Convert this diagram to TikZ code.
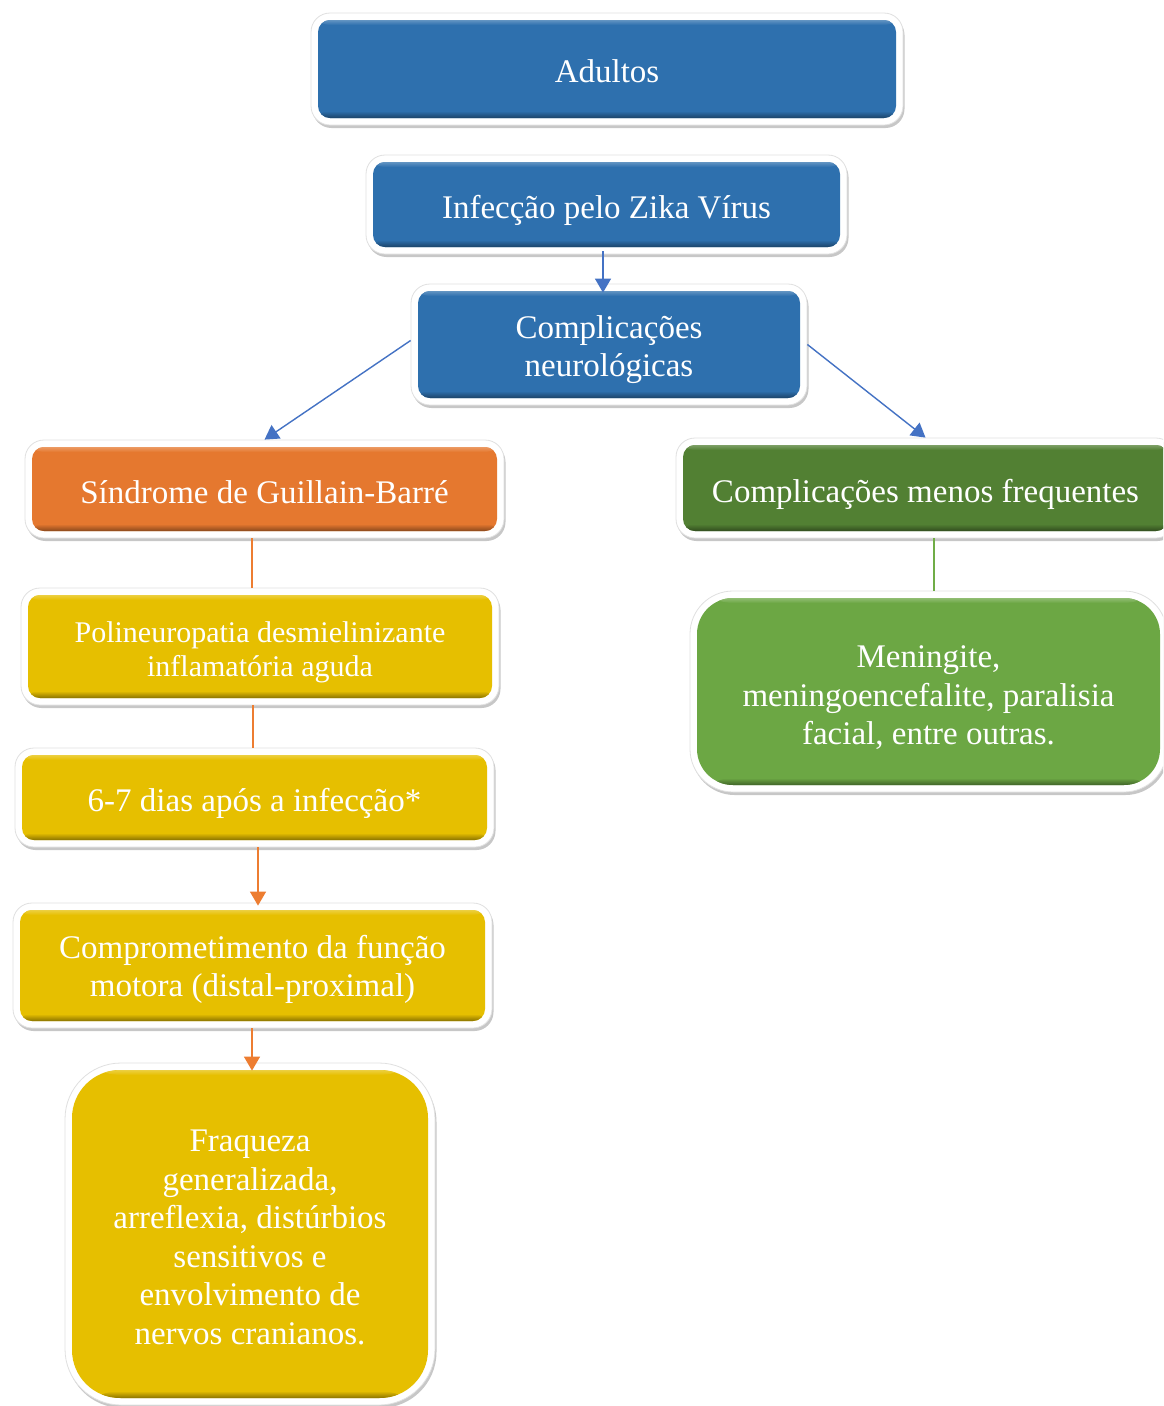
\documentclass[tikz,border=0pt]{standalone}
\usepackage{fontspec}
\setmainfont{Liberation Serif}
\usetikzlibrary{arrows.meta,shadows}

\definecolor{boxblue}{HTML}{2E70AE}
\definecolor{boxorange}{HTML}{E5782F}
\definecolor{boxdarkgreen}{HTML}{528033}
\definecolor{boxgreen}{HTML}{6CA744}
\definecolor{boxyellow}{HTML}{E6BF00}
\definecolor{lineblue}{HTML}{4472C4}
\definecolor{lineorange}{HTML}{ED7D31}
\definecolor{linegreen}{HTML}{70AD47}

% fixed line height and depth, so every line of a card sits the same way
\newcommand\cardtop{\rule{0pt}{0.95em}}
\newcommand\cardbottom{\rule[-0.24em]{0pt}{0.24em}}

\begin{document}
\begin{tikzpicture}[x=1pt,y=-1pt,
  % white framed card with a coloured, slightly bevelled face
  card/.style n args={5}{rectangle, rounded corners=#5, fill=white,
    draw=black!12, line width=0.8pt,
    drop shadow={shadow xshift=1.5pt,shadow yshift=-3pt,opacity=.22,fill=black},
    minimum width=#2, minimum height=#3, inner sep=0pt,
    path picture={
      \begin{scope}
        \clip[rounded corners=#4]
          ([shift={(7pt,7pt)}]path picture bounding box.south west) rectangle
          ([shift={(-7pt,-7pt)}]path picture bounding box.north east);
        \fill[#1] (path picture bounding box.south west) rectangle
          (path picture bounding box.north east);
        \shade[top color=#1, bottom color=#1!60!black]
          ([yshift=7pt]path picture bounding box.south west) rectangle
          ([yshift=14pt]path picture bounding box.south east);
        \shade[top color=#1!75!white, bottom color=#1]
          ([yshift=-7pt]path picture bounding box.north west) rectangle
          ([yshift=-12pt]path picture bounding box.north east);
      \end{scope}
    }},
  % the white lettering on a card
  cardtext/.style={text=white, align=center, inner sep=0pt,
    font=\fontsize{33}{38.5}\selectfont,
    execute at begin node=\cardtop, execute at end node=\cardbottom},
  smallfont/.style={font=\fontsize{30}{34}\selectfont},
  link/.style={line width=1.4pt},
  tip/.style={-{Triangle[width=16pt,length=14pt]}},
]
\clip (0,0) rectangle (1163,1406);
\fill[white] (0,0) rectangle (1163,1406);

% main column
\node[card={boxblue}{592}{112}{12pt}{19pt}] (adultos) at (607,69) {};
\node[card={boxblue}{481}{99}{12pt}{19pt}] (infec) at (606.5,204.5) {};
\node[card={boxblue}{396}{121}{12pt}{19pt}] (compl) at (609,344.5) {};

% Guillain-Barré branch
\node[card={boxorange}{479}{98}{12pt}{19pt}] (sind) at (264.5,489) {};
\node[card={boxyellow}{478}{117}{12pt}{19pt}] (poli) at (260,646.5) {};
\node[card={boxyellow}{479}{99}{12pt}{19pt}] (dias) at (254.5,797.5) {};
\node[card={boxyellow}{479}{125}{12pt}{19pt}] (compr) at (252.5,965.5) {};
\node[card={boxyellow}{370}{342}{48pt}{56pt}] (fraq) at (250,1234) {};

% less frequent complications
\node[card={boxdarkgreen}{499}{100}{12pt}{19pt}] (menos) at (925.5,488) {};
\node[card={boxgreen}{477}{201}{36pt}{43pt}] (mening) at (928.5,691.5) {};

% lettering
\node[cardtext] (adultos-t) at ([yshift=-1.5pt]adultos.center) {Adultos};
\node[cardtext] (infec-t) at ([yshift=-2.5pt]infec.center) {Infecção pelo Zika Vírus};
\node[cardtext] (compl-t) at ([yshift=-5.5pt]compl.center) {Complicações\\neurológicas};
\node[cardtext] (sind-t) at ([yshift=-2.5pt]sind.center) {Síndrome de Guillain-Barré};
\node[cardtext,smallfont] (poli-t) at ([yshift=-6pt]poli.center) {Polineuropatia desmielinizante\\inflamatória aguda};
\node[cardtext] (dias-t) at ([yshift=-2.5pt]dias.center) {6-7 dias após a infecção*};
\node[cardtext] (compr-t) at ([yshift=-4.5pt]compr.center) {Comprometimento da função\\motora (distal-proximal)};
\node[cardtext] (fraq-t) at ([yshift=-7pt]fraq.center) {Fraqueza\\generalizada,\\arreflexia, distúrbios\\sensitivos e\\envolvimento de\\nervos cranianos.};
\node[cardtext] (menos-t) at ([yshift=-2.5pt]menos.center) {Complicações menos frequentes};
\node[cardtext] (mening-t) at ([yshift=-8pt]mening.center) {Meningite,\\meningoencefalite, paralisia\\facial, entre outras.};

% connectors
\draw[link,lineblue,tip] ([xshift=-3.5pt,yshift=3pt]infec.south) -- ([xshift=-6pt,yshift=-9pt]compl.north);
\draw[link,lineblue,tip] ([yshift=4pt]compl.west) -- (sind.north);
\draw[link,lineblue,tip] (compl.east) -- (menos.north);
\draw[link,lineorange] ([xshift=-12.5pt]sind.south) -- ([xshift=-8pt]poli.north);
\draw[link,lineorange] ([xshift=-7pt]poli.south) -- ([xshift=-1.5pt]dias.north);
\draw[link,lineorange,tip] ([xshift=3.5pt]dias.south) -- ([xshift=5.5pt,yshift=-3pt]compr.north);
\draw[link,lineorange,tip] ([xshift=-0.5pt]compr.south) -- ([xshift=2pt,yshift=-8pt]fraq.north);
\draw[link,linegreen] ([xshift=8.5pt]menos.south) -- ([xshift=5.5pt]mening.north);
\end{tikzpicture}
\end{document}
